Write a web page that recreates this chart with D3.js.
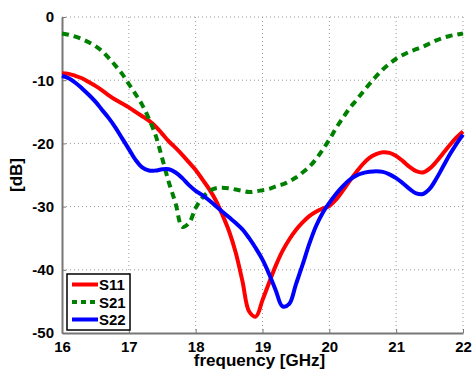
<!doctype html>
<html>
<head>
<meta charset="utf-8">
<style>
    body { margin: 0; background: #fff; }
    svg { font-family: "Liberation Sans", Arial, sans-serif; font-weight: bold; }
</style>
<script src="https://cdn.jsdelivr.net/npm/d3@7"></script>
</head>
<body>
<svg width="473" height="374"></svg>
<script>
// frequency points (GHz)
var freq = [16.0,16.1,16.2,16.3,16.4,16.5,16.6,16.7,16.8,16.9,
            17.0,17.1,17.2,17.3,17.4,17.5,17.6,17.7,17.8,17.9,
            18.0,18.1,18.2,18.3,18.4,18.5,18.6,18.7,18.8,18.9,
            19.0,19.1,19.2,19.3,19.4,19.5,19.6,19.7,19.8,19.9,
            20.0,20.1,20.2,20.3,20.4,20.5,20.6,20.7,20.8,20.9,
            21.0,21.1,21.2,21.3,21.4,21.5,21.6,21.7,21.8,21.9,22.0];

var s11 = [-8.9,-9.0,-9.3,-9.7,-10.3,-10.9,-11.6,-12.4,-13.1,-13.7,
           -14.3,-15.0,-15.7,-16.4,-17.3,-18.5,-19.7,-20.7,-21.8,-23.0,
           -24.2,-25.7,-27.2,-29.0,-31.3,-33.9,-37.3,-41.8,-46.6,-47.4,
           -44.8,-42.0,-39.3,-37.0,-35.2,-33.7,-32.5,-31.5,-30.8,-30.3,
           -29.9,-28.9,-27.5,-26.0,-24.6,-23.3,-22.3,-21.7,-21.4,-21.5,
           -22.0,-22.8,-23.7,-24.4,-24.6,-24.0,-22.9,-21.6,-20.3,-19.1,-18.1];

var s21 = [-2.6,-2.8,-3.1,-3.5,-4.0,-4.6,-5.4,-6.5,-7.7,-9.0,
           -10.6,-12.2,-13.9,-16.1,-18.7,-22.4,-26.2,-29.5,-33.2,-32.6,
           -30.2,-28.6,-27.6,-27.1,-27.0,-27.1,-27.3,-27.5,-27.7,-27.6,
           -27.4,-27.2,-26.8,-26.5,-26.0,-25.4,-24.6,-23.7,-22.5,-21.0,
           -19.4,-17.6,-16.0,-14.5,-13.2,-11.9,-10.6,-9.4,-8.3,-7.4,
           -6.6,-6.0,-5.5,-5.1,-4.7,-4.2,-3.7,-3.3,-3.0,-2.8,-2.6];

var s22 = [-9.3,-9.7,-10.4,-11.3,-12.3,-13.4,-14.7,-16.0,-17.5,-19.2,
           -20.9,-22.6,-23.8,-24.3,-24.3,-24.1,-24.1,-24.6,-25.5,-26.6,
           -27.5,-28.2,-29.0,-29.9,-30.8,-31.7,-32.6,-33.6,-35.0,-36.6,
           -38.4,-40.7,-43.3,-45.8,-45.4,-42.3,-39.2,-35.9,-33.1,-31.0,
           -29.4,-28.0,-26.8,-25.8,-25.1,-24.7,-24.5,-24.4,-24.5,-24.9,
           -25.5,-26.3,-27.2,-27.9,-28.0,-27.2,-25.6,-23.7,-21.8,-20.1,-18.6];

var xTicks = [16, 17, 18, 19, 20, 21, 22];
var yTicks = [0, -10, -20, -30, -40, -50];

var series = [
    { name: "S11", values: s11, color: "#ff0000", dash: null },
    { name: "S21", values: s21, color: "#008000", dash: "7,5" },
    { name: "S22", values: s22, color: "#0000ff", dash: null }
];

var svg = d3.select("svg"),
    pLeft = 62, pTop = 17, pRight = 463, pBottom = 333;

var x = d3.scaleLinear().domain([16, 22]).range([pLeft, pRight]),
    y = d3.scaleLinear().domain([-50, 0]).range([pBottom, pTop]);

// dotted grid
svg.append("g").selectAll("line")
   .data(xTicks.slice(1))
   .enter().append("line")
   .attr("x1", function(d) { return x(d); })
   .attr("x2", function(d) { return x(d); })
   .attr("y1", pTop).attr("y2", pBottom)
   .attr("stroke", "#999").attr("stroke-dasharray", "1,3");

svg.append("g").selectAll("line")
   .data(yTicks.slice(0, -1))
   .enter().append("line")
   .attr("y1", function(d) { return y(d); })
   .attr("y2", function(d) { return y(d); })
   .attr("x1", pLeft).attr("x2", pRight)
   .attr("stroke", "#999").attr("stroke-dasharray", "1,3");

// axes
var plain = function(d) { return String(d); };
var xAxis = svg.append("g")
   .attr("transform", "translate(0," + pBottom + ")")
   .call(d3.axisBottom(x).tickValues(xTicks).tickFormat(plain)
           .tickSizeInner(-4).tickSizeOuter(0).tickPadding(8));
var yAxis = svg.append("g")
   .attr("transform", "translate(" + pLeft + ",0)")
   .call(d3.axisLeft(y).tickValues(yTicks).tickFormat(plain)
           .tickSizeInner(-4).tickSizeOuter(0).tickPadding(8));

[xAxis, yAxis].forEach(function(a) {
    a.attr("font-family", null).attr("font-size", null);
    a.select(".domain").attr("stroke", "#777").attr("stroke-width", 2);
    a.selectAll(".tick line").attr("stroke", "#777");
    a.selectAll("text").attr("font-size", "15px").attr("fill", "#000");
});

// curves
var line = d3.line()
    .x(function(d, i) { return x(freq[i]); })
    .y(function(d) { return y(d); })
    .curve(d3.curveCatmullRom);

svg.append("g").selectAll("path")
   .data(series)
   .enter().append("path")
   .attr("d", function(d) { return line(d.values); })
   .attr("fill", "none")
   .attr("stroke", function(d) { return d.color; })
   .attr("stroke-width", 4)
   .attr("stroke-dasharray", function(d) { return d.dash; });

// axis labels
svg.append("text")
   .attr("x", (pLeft + pRight) / 2 - 3)
   .attr("y", 366)
   .attr("text-anchor", "middle")
   .attr("font-size", "17px")
   .text("frequency [GHz]");

svg.append("text")
   .attr("transform", "translate(22," + ((pTop + pBottom) / 2) + ") rotate(-90)")
   .attr("text-anchor", "middle")
   .attr("font-size", "17px")
   .text("[dB]");

// legend
var lg = svg.append("g").attr("transform", "translate(67,274)");
lg.append("rect")
  .attr("width", 63).attr("height", 56)
  .attr("fill", "#fff").attr("stroke", "#000").attr("stroke-width", 1.5);

var item = lg.selectAll(".item")
   .data(series)
   .enter().append("g")
   .attr("transform", function(d, i) { return "translate(0," + (10.5 + i * 17.5) + ")"; });
item.append("line")
    .attr("x1", 5).attr("x2", 31)
    .attr("stroke", function(d) { return d.color; })
    .attr("stroke-width", 4)
    .attr("stroke-dasharray", function(d) { return d.dash ? "5,4" : null; });
item.append("text")
    .attr("x", 32).attr("y", 5.5)
    .attr("font-size", "15px")
    .text(function(d) { return d.name; });
</script>
</body>
</html>
